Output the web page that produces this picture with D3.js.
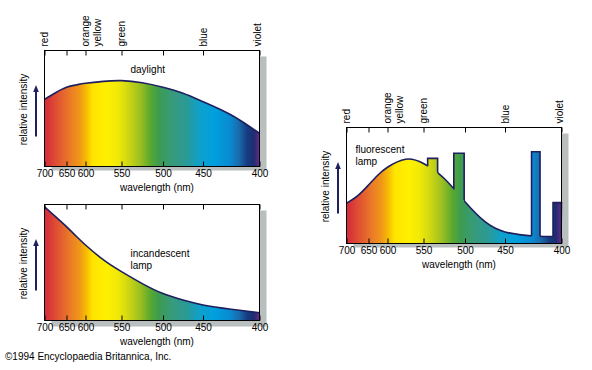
<!DOCTYPE html>
<html>
<head>
<meta charset="utf-8">
<script src="https://cdnjs.cloudflare.com/ajax/libs/d3/7.8.5/d3.min.js"></script>
<style>
	body { margin: 0; background: #fff; }
	text { font-family: "Liberation Sans", Arial, sans-serif; font-size: 10px; fill: #000; }
</style>
</head>
<body>
<div id="visual"></div>
<script>
const wavelengths = [700, 675, 650, 625, 600, 575, 550, 525, 500, 475, 450, 425, 400];

// relative intensity, 0 = bottom of box, 1 = top
const daylight = [0.579, 0.636, 0.683, 0.703, 0.717, 0.734, 0.740, 0.722, 0.683, 0.631, 0.559, 0.444, 0.286];
const incandescent = [0.981, 0.895, 0.809, 0.728, 0.651, 0.522, 0.421, 0.318, 0.232, 0.176, 0.134, 0.097, 0.067];
const fluorescent = [0.347, 0.410, 0.504, 0.590, 0.657, 0.726, 0.690, 0.560, 0.360, 0.188, 0.100, 0.065, 0.060];

// mercury lines of the fluorescent lamp: [from nm, to nm, height]
const fluorescentSpikes = [[545, 533, 0.734], [513.5, 501, 0.778], [426.5, 419, 0.791], [407.5, 400, 0.352]];

const tickValues = [700, 650, 600, 550, 500, 450, 400];
const colourNames = ['red', 'orange', 'yellow', 'green', 'blue', 'violet'];
const colourWaves = [700, 600, 583, 550, 450, 402];

// spectrum colours by wavelength
const spectrum = [
	[700, '#d42a3c'], [688, '#d83a38'], [665, '#e25a30'], [641, '#ea7a28'], [615, '#f09818'],
	[598, '#f8c000'], [590, '#ffe400'], [570, '#fff000'], [555, '#f0e808'], [545, '#d8dc10'],
	[528, '#9ec020'], [515, '#5aa830'], [505, '#3c9c50'], [490, '#389a78'], [470, '#2a9a98'],
	[455, '#10a0c8'], [440, '#00a0e0'], [426, '#0a8ad0'], [418, '#1a6aac'], [411, '#153c80'],
	[405, '#1e2c70'], [402, '#4a2a80'], [400, '#6a2a8a']
];

const width = 592,
			height = 370,
			boxW = 215,
			boxH = 116,
			tickOffsets = [0, 22, 41, 77, 118.5, 158.5, 215],
			navy = '#1d1f5e';

const charts = [
	{ values: daylight, left: 44.5, top: 50.5, label: ['daylight'], lx: 86, ly: 22, shadowDy: 4, names: true },
	{ values: incandescent, left: 44.5, top: 204.5, label: ['incandescent', 'lamp'], lx: 86, ly: 52, shadowDy: 6, names: false },
	{ values: fluorescent, spikes: fluorescentSpikes, left: 346.5, top: 127.5, label: ['fluorescent', 'lamp'], lx: 9, ly: 25, shadowDy: 4, names: true }
];

const svg = d3.select('#visual').append('svg').attr('width', width).attr('height', height);
const defs = svg.append('defs');

charts.forEach((c, ci) => {
	const x = d3.scaleLinear().domain(tickValues).range(tickOffsets.map(o => c.left + o));
	const y = d3.scaleLinear().domain([0, 1]).range([c.top + boxH, c.top]);
	const g = svg.append('g');

	// drop shadow
	g.append('rect')
		.attr('x', c.left + 7).attr('y', c.top + 6)
		.attr('width', boxW).attr('height', boxH - 6 + c.shadowDy)
		.attr('fill', '#b9bebe');
	g.append('rect')
		.attr('x', c.left).attr('y', c.top)
		.attr('width', boxW).attr('height', boxH)
		.attr('fill', '#fff');

	// spectrum gradient
	const grad = defs.append('linearGradient')
		.attr('id', 'spec' + ci)
		.attr('gradientUnits', 'userSpaceOnUse')
		.attr('x1', x(700)).attr('x2', x(400)).attr('y1', 0).attr('y2', 0);
	grad.selectAll('stop')
		.data(spectrum)
		.join('stop')
		.attr('offset', d => (x(d[0]) - x(700)) / (x(400) - x(700)))
		.attr('stop-color', d => d[1]);

	const pts = wavelengths.map((w, i) => [w, c.values[i]]);
	const area = d3.area().x(d => x(d[0])).y0(y(0)).y1(d => y(d[1])).curve(d3.curveNatural);
	const line = area.lineY1();

	g.append('path').datum(pts).attr('d', area).attr('fill', `url(#spec${ci})`);
	g.append('path').datum(pts).attr('d', line)
		.attr('fill', 'none').attr('stroke', navy).attr('stroke-width', 1.6);

	if (c.spikes) {
		// clip that keeps only what lies above the curve
		defs.append('clipPath').attr('id', 'above' + ci)
			.append('path')
			.attr('d', line(pts) + `L${x(400) + 5},${c.top - 10}L${x(700) - 5},${c.top - 10}Z`);

		g.selectAll('.spike')
			.data(c.spikes)
			.join('rect')
			.attr('class', 'spike')
			.attr('x', d => x(d[0])).attr('width', d => x(d[1]) - x(d[0]))
			.attr('y', d => y(d[2])).attr('height', d => y(0) - y(d[2]))
			.attr('fill', `url(#spec${ci})`);

		g.selectAll('.spike-edge')
			.data(c.spikes)
			.join('path')
			.attr('class', 'spike-edge')
			.attr('clip-path', `url(#above${ci})`)
			.attr('d', d => `M${x(d[0])},${y(0)}V${y(d[2])}H${x(d[1])}V${y(0)}`)
			.attr('fill', 'none').attr('stroke', navy).attr('stroke-width', 1.6);
	}

	// frame
	g.append('rect')
		.attr('x', c.left).attr('y', c.top)
		.attr('width', boxW).attr('height', boxH)
		.attr('fill', 'none').attr('stroke', '#000');

	// axes: ticks point inward, labels only below
	g.append('g')
		.attr('transform', `translate(0,${c.top + boxH})`)
		.call(d3.axisBottom(x).tickValues(tickValues).tickSize(-5).tickPadding(3))
		.call(a => a.select('.domain').remove());
	g.append('g')
		.attr('transform', `translate(0,${c.top})`)
		.call(d3.axisTop(x).tickValues(tickValues).tickSize(-5).tickFormat(''))
		.call(a => a.select('.domain').remove());

	if (c.names) {
		g.selectAll('.colour')
			.data(colourNames)
			.join('text')
			.attr('class', 'colour')
			.attr('transform', (d, i) => `translate(${x(colourWaves[i])},${c.top - 4}) rotate(-90)`)
			.attr('dominant-baseline', 'central')
			.text(d => d);
	}

	g.append('text')
		.attr('x', c.left + boxW / 2 + 5).attr('y', c.top + boxH + 24)
		.attr('text-anchor', 'middle')
		.text('wavelength (nm)');

	// relative intensity + arrow
	const cy = c.top + boxH / 2;
	g.append('text')
		.attr('transform', `translate(${c.left - 21},${cy + 1}) rotate(-90)`)
		.attr('text-anchor', 'middle')
		.attr('dominant-baseline', 'central')
		.text('relative intensity');
	const ax = c.left - 8.5;
	g.append('line')
		.attr('x1', ax).attr('x2', ax).attr('y1', cy + 28).attr('y2', cy - 18)
		.attr('stroke', navy).attr('stroke-width', 2);
	g.append('path')
		.attr('d', `M${ax},${cy - 23.5}L${ax + 2.8},${cy - 16.5}L${ax - 2.8},${cy - 16.5}Z`)
		.attr('fill', navy);

	// lamp name
	g.append('text')
		.attr('x', c.left + c.lx).attr('y', c.top + c.ly)
		.selectAll('tspan')
		.data(c.label)
		.join('tspan')
		.attr('x', c.left + c.lx)
		.attr('dy', (d, i) => i ? 12 : 0)
		.text(d => d);
});

svg.append('text').attr('x', 5).attr('y', 360).text('©1994 Encyclopaedia Britannica, Inc.');
</script>
</body>
</html>
